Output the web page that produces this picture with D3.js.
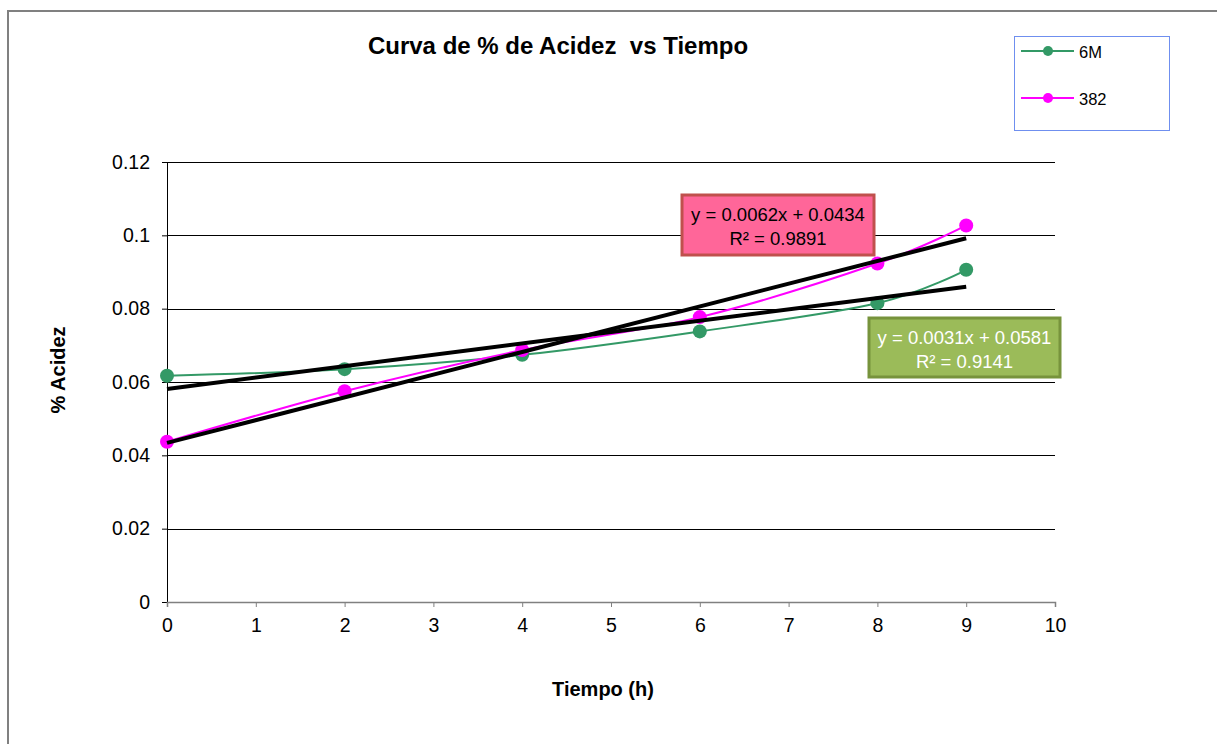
<!DOCTYPE html>
<html>
<head>
<meta charset="utf-8">
<script src="https://cdn.jsdelivr.net/npm/d3@7"></script>
<style>
  body { margin: 0; background: #fff; }
  text { font-family: "Liberation Sans", Arial, sans-serif; }
</style>
</head>
<body>
<script>
// Width and height
var w = 1217;
var h = 744;

// data
var times = [0, 2, 4, 6, 8, 9];
var acidez6M = [0.0617, 0.0635, 0.0674, 0.0738, 0.0815, 0.0906];
var acidez382 = [0.0437, 0.0575, 0.0687, 0.0777, 0.0923, 0.1027];
var seriesNames = ["6M", "382"];
var slopes = [0.0031, 0.0062];
var intercepts = [0.0581, 0.0434];
var r2 = [0.9141, 0.9891];
var xTicks = [0, 1, 2, 3, 4, 5, 6, 7, 8, 9, 10];
var yTicks = [0, 0.02, 0.04, 0.06, 0.08, 0.1, 0.12];

var colors = ["#339966", "#FF00FF"];
var series = [acidez6M, acidez382];

var xScale = d3.scaleLinear().domain([0, 10]).range([167, 1055]);
var yScale = d3.scaleLinear().domain([0, 0.12]).range([602, 162]);

var svg = d3.select("body")
    .append("svg")
    .attr("width", w)
    .attr("height", h);

// outer chart border
svg.append("rect")
    .attr("x", 8).attr("y", 11)
    .attr("width", 1240).attr("height", 760)
    .attr("fill", "none")
    .attr("stroke", "#808080")
    .attr("stroke-width", 2);

// title
svg.append("text")
    .attr("x", 558).attr("y", 54)
    .attr("text-anchor", "middle")
    .attr("font-size", "24px")
    .attr("font-weight", "bold")
    .style("white-space", "pre")
    .text("Curva de % de Acidez  vs Tiempo");

// gridlines
svg.append("g")
    .selectAll("line")
    .data(yTicks.slice(1))
    .enter()
    .append("line")
    .attr("x1", xScale(0)).attr("x2", xScale(10))
    .attr("y1", d => Math.round(yScale(d)) + 0.5)
    .attr("y2", d => Math.round(yScale(d)) + 0.5)
    .attr("stroke", "#000")
    .attr("stroke-width", 1);

// axes
var yAxis = d3.axisLeft(yScale)
    .tickValues(yTicks)
    .tickSize(5)
    .tickPadding(12)
    .tickFormat(d => d === 0 ? "0" : String(+d.toFixed(2)));
var gy = svg.append("g")
    .attr("transform", "translate(" + xScale(0) + ",0)")
    .call(yAxis);

var xAxis = d3.axisBottom(xScale)
    .tickValues(xTicks)
    .tickSize(5)
    .tickPadding(11)
    .tickFormat(d3.format("d"));
var gx = svg.append("g")
    .attr("transform", "translate(0," + yScale(0) + ")")
    .call(xAxis);

[gx, gy].forEach(function(g) {
    g.attr("font-size", null).attr("font-family", null);
    g.select(".domain").attr("stroke", "#000").attr("stroke-width", 1);
    g.selectAll(".tick line").attr("stroke", "#000");
    g.selectAll(".tick text")
        .style("font-size", "19.5px")
        .style("font-family", "Liberation Sans, Arial, sans-serif")
        .attr("fill", "#000");
});
gx.select(".domain").attr("stroke", "#808080").attr("stroke-width", 1.5);
gx.selectAll(".tick line").attr("stroke", "#808080");

// axis titles
svg.append("text")
    .attr("x", 603).attr("y", 696)
    .attr("text-anchor", "middle")
    .attr("font-size", "20px")
    .attr("font-weight", "bold")
    .text("Tiempo (h)");

svg.append("text")
    .attr("transform", "translate(65,370) rotate(-90)")
    .attr("text-anchor", "middle")
    .attr("font-size", "20px")
    .attr("font-weight", "bold")
    .text("% Acidez");

// series lines (smoothed)
var line = d3.line()
    .x((d, i) => xScale(times[i]))
    .y(d => yScale(d))
    .curve(d3.curveCatmullRom.alpha(0));

svg.selectAll(".series")
    .data(series)
    .enter()
    .append("path")
    .attr("class", "series")
    .attr("d", d => line(d))
    .attr("fill", "none")
    .attr("stroke", (d, i) => colors[i])
    .attr("stroke-width", 2);

series.forEach(function(vals, s) {
    svg.append("g")
        .selectAll("circle")
        .data(vals)
        .enter()
        .append("circle")
        .attr("cx", (d, i) => xScale(times[i]))
        .attr("cy", d => yScale(d))
        .attr("r", 7)
        .attr("fill", colors[s]);
});

// trendlines
svg.selectAll(".trend")
    .data(slopes)
    .enter()
    .append("line")
    .attr("class", "trend")
    .attr("x1", xScale(0))
    .attr("y1", (d, i) => yScale(intercepts[i]))
    .attr("x2", xScale(9))
    .attr("y2", (d, i) => yScale(d * 9 + intercepts[i]))
    .attr("stroke", "#000")
    .attr("stroke-width", 4);

// equation labels
var eqBoxes = [
    { x: 869, y: 318, w: 191, h: 59, fill: "#9BBB59", stroke: "#77933C", color: "#fff" },
    { x: 682, y: 195, w: 192, h: 60, fill: "#FF6699", stroke: "#C0504D", color: "#000" }
];
eqBoxes.forEach(function(b, i) {
    svg.append("rect")
        .attr("x", b.x).attr("y", b.y)
        .attr("width", b.w).attr("height", b.h)
        .attr("fill", b.fill)
        .attr("stroke", b.stroke)
        .attr("stroke-width", 3);
    var t = svg.append("text")
        .attr("text-anchor", "middle")
        .attr("font-family", "Lato, 'Open Sans', sans-serif")
        .attr("font-size", "18.5px")
        .attr("fill", b.color);
    t.append("tspan")
        .attr("x", b.x + b.w / 2).attr("y", b.y + 26)
        .text("y = " + slopes[i].toFixed(4) + "x + " + intercepts[i].toFixed(4));
    t.append("tspan")
        .attr("x", b.x + b.w / 2).attr("y", b.y + 50)
        .text("R\u00b2 = " + r2[i].toFixed(4));
});

// legend
var legend = svg.append("g");
legend.append("rect")
    .attr("x", 1014.5).attr("y", 36.5)
    .attr("width", 155).attr("height", 94)
    .attr("fill", "#fff")
    .attr("stroke", "#6F8FEF")
    .attr("stroke-width", 1);

seriesNames.forEach(function(name, i) {
    var y = 51 + i * 47;
    legend.append("line")
        .attr("x1", 1021).attr("x2", 1074)
        .attr("y1", y).attr("y2", y)
        .attr("stroke", colors[i])
        .attr("stroke-width", 2);
    legend.append("circle")
        .attr("cx", 1048).attr("cy", y)
        .attr("r", 5)
        .attr("fill", colors[i]);
    legend.append("text")
        .attr("x", 1079).attr("y", y + 6.5)
        .attr("font-size", "16.5px")
        .text(name);
});
</script>
</body>
</html>
